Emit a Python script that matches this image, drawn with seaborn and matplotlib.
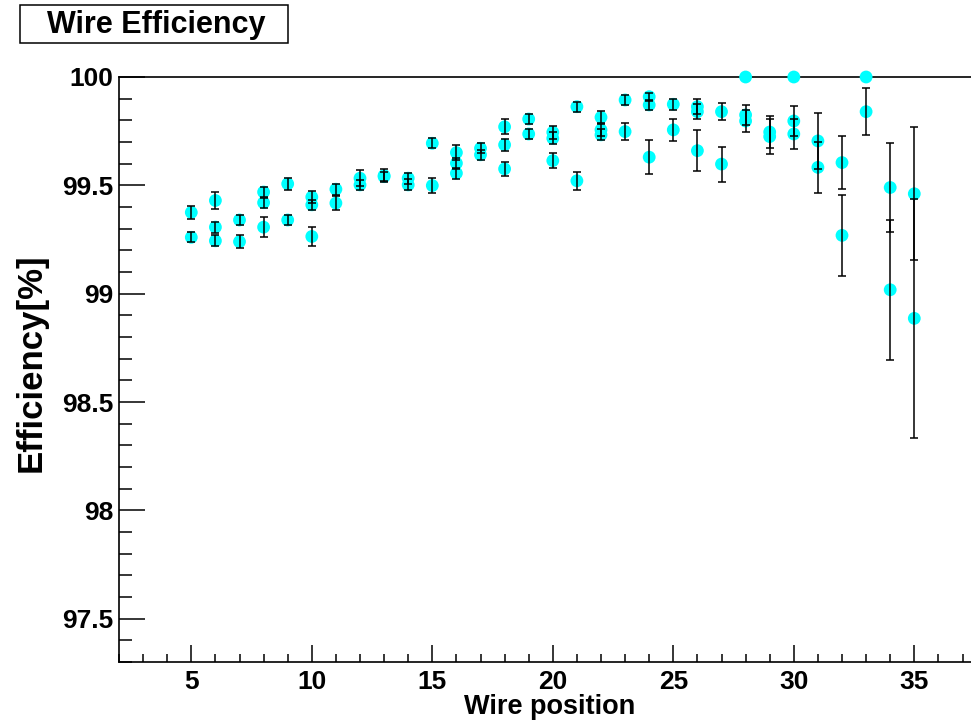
import numpy as np
import pandas as pd
import matplotlib
matplotlib.use("Agg")
import matplotlib.pyplot as plt
import seaborn as sns
from matplotlib.patches import Rectangle
from matplotlib.ticker import MultipleLocator, FixedLocator, FixedFormatter

wire_pos = [5, 5,
            6, 6, 6,
            7, 7,
            8, 8, 8,
            9, 9,
            10, 10, 10,
            11, 11,
            12, 12,
            13, 13,
            14, 14,
            15, 15,
            16, 16, 16,
            17, 17,
            18, 18, 18,
            19, 19,
            20, 20, 20,
            21, 21,
            22, 22, 22,
            23, 23,
            24, 24, 24,
            25, 25,
            26, 26, 26,
            27, 27,
            28, 28, 28,
            29, 29,
            30, 30, 30,
            31, 31,
            32, 32,
            33, 33,
            34, 34,
            35, 35]

efficiency = [99.375, 99.26,
              99.43, 99.307, 99.244,
              99.34, 99.24,
              99.469, 99.42, 99.307,
              99.507, 99.34,
              99.446, 99.41, 99.264,
              99.482, 99.418,
              99.533, 99.502,
              99.545, 99.54,
              99.533, 99.502,
              99.694, 99.499,
              99.651, 99.602, 99.556,
              99.671, 99.641,
              99.77, 99.687, 99.576,
              99.806, 99.737,
              99.745, 99.717, 99.614,
              99.863, 99.521,
              99.814, 99.756, 99.733,
              99.894, 99.748,
              99.909, 99.871, 99.63,
              99.874, 99.756,
              99.863, 99.84, 99.66,
              99.84, 99.598,
              100.0, 99.825, 99.797,
              99.746, 99.725,
              100.0, 99.797, 99.737,
              99.705, 99.583,
              99.605, 99.269,
              100.0, 99.84,
              99.49, 99.018,
              99.461, 98.886]

eff_error = [0.031, 0.023,
             0.039, 0.025, 0.025,
             0.025, 0.030,
             0.023, 0.023, 0.045,
             0.027, 0.025,
             0.027, 0.023, 0.046,
             0.025, 0.032,
             0.038, 0.023,
             0.031, 0.020,
             0.026, 0.025,
             0.023, 0.033,
             0.034, 0.025, 0.026,
             0.023, 0.023,
             0.035, 0.027, 0.032,
             0.025, 0.025,
             0.030, 0.027, 0.035,
             0.023, 0.042,
             0.027, 0.027, 0.025,
             0.023, 0.041,
             0.018, 0.025, 0.079,
             0.025, 0.050,
             0.034, 0.034, 0.096,
             0.040, 0.081,
             0.0, 0.047, 0.051,
             0.075, 0.081,
             0.0, 0.068, 0.071,
             0.130, 0.119,
             0.122, 0.187,
             0.0, 0.108,
             0.207, 0.323,
             0.307, 0.551]

y_ticks = [97.5, 98, 98.5, 99, 99.5, 100]
y_tick_labels = ["97.5", "98", "98.5", "99", "99.5", "100"]

df = pd.DataFrame({"wire": wire_pos, "eff": efficiency, "err": eff_error})

sns.set_style("ticks")
plt.rcParams["font.family"] = ["Liberation Sans", "DejaVu Sans"]
plt.rcParams["font.weight"] = "bold"
plt.rcParams["text.color"] = "black"
plt.rcParams["xtick.color"] = "black"
plt.rcParams["ytick.color"] = "black"
plt.rcParams["axes.edgecolor"] = "black"

fig = plt.figure(figsize=(9.71, 7.23), dpi=100)
# frame runs past the right edge of the canvas, like the original
ax = fig.add_axes([119 / 971, 61 / 723, 867.6 / 971, 585 / 723])

# markers first, error bars drawn on top
sns.scatterplot(data=df, x="wire", y="eff", ax=ax, color="#00FFFF", s=85,
                edgecolor="none", linewidth=0, zorder=3, clip_on=False, legend=False)

with_err = df[df["err"] > 0]
ax.errorbar(with_err["wire"], with_err["eff"], yerr=with_err["err"], fmt="none",
            ecolor="black", elinewidth=1.1, capsize=2.9, capthick=1.1, zorder=4)

ax.set_xlim(2, 38)
ax.set_ylim(97.3, 100)

ax.xaxis.set_major_locator(MultipleLocator(5))
ax.xaxis.set_minor_locator(MultipleLocator(1))
ax.yaxis.set_major_locator(FixedLocator(y_ticks))
ax.yaxis.set_major_formatter(FixedFormatter(y_tick_labels))
ax.yaxis.set_minor_locator(MultipleLocator(0.1))

ax.tick_params(axis="both", which="both", direction="in", color="black",
               width=1.1, labelsize=19, labelcolor="black",
               bottom=True, left=True, top=False, right=False)
ax.tick_params(axis="x", which="major", length=12.2, pad=6)
ax.tick_params(axis="x", which="minor", length=6.1)
ax.tick_params(axis="y", which="major", length=18.7, pad=4)
ax.tick_params(axis="y", which="minor", length=9.4)
for lab in ax.get_xticklabels() + ax.get_yticklabels():
    lab.set_fontweight("bold")

for sp in ax.spines.values():
    sp.set_color("black")
    sp.set_linewidth(1.2)
    sp.set_visible(True)
ax.spines["right"].set_visible(False)

ax.set_xlabel("")
ax.set_ylabel("")
fig.text(550 / 971, 1 - 707 / 723, "Wire position", ha="center", va="center",
         fontsize=19.5, fontweight="bold")
fig.text(31 / 971, 1 - 363 / 723, "Efficiency[%]", ha="center", va="center",
         rotation=90, fontsize=25, fontweight="bold")

# title box
fig.patches.append(Rectangle((20 / 971, 1 - 43 / 723), 268 / 971, 38 / 723,
                             transform=fig.transFigure, facecolor="white",
                             edgecolor="black", linewidth=1.1))
fig.text(156 / 971, 1 - 25 / 723, "Wire Efficiency", ha="center", va="center",
         fontsize=22, fontweight="bold")

fig.savefig("out.png", dpi=100)
